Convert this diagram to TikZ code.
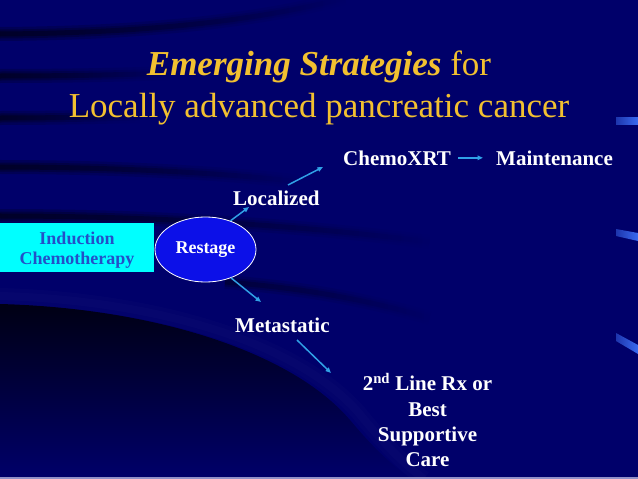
\documentclass[tikz,border=0pt]{standalone}
\usepackage{fontspec}
\setmainfont{Liberation Serif}
\usetikzlibrary{arrows.meta,shapes.geometric,fadings}
\definecolor{navybg}{HTML}{00006A}
\definecolor{bandc}{HTML}{000014}
\definecolor{gold}{HTML}{F2C030}
\definecolor{arrc}{HTML}{30A0E6}
\definecolor{restagec}{HTML}{0C10E8}
\definecolor{indc}{HTML}{00FFFF}
\definecolor{indtext}{HTML}{2350C8}
\definecolor{markc}{HTML}{3A6AF0}
\definecolor{edgec}{HTML}{9090C8}
\tikzfading[name=fadeR, left color=transparent!0, right color=transparent!100]
\begin{document}
\begin{tikzpicture}[x=1pt,y=-1pt,
  band/.style={draw=bandc, path fading=fadeR},
  arr/.style={draw=arrc, line width=1.5pt, -{Triangle[length=5.5pt,width=4.5pt]}},
  title/.style={text=gold, inner sep=0pt, font=\fontsize{35}{40}\selectfont},
  lbl/.style={text=white, inner sep=0pt, font=\fontsize{21}{25.3}\selectfont\bfseries},
  indbox/.style={rectangle, fill=indc, minimum width=154pt, minimum height=49pt, inner sep=0pt,
    align=center, text=indtext, font=\fontsize{18}{20}\selectfont\bfseries},
  restagebox/.style={ellipse, draw=white, line width=0.8pt, fill=restagec, minimum width=101pt,
    minimum height=65pt, inner sep=0pt, text=white, font=\fontsize{18}{20}\selectfont\bfseries}]
\useasboundingbox (0,0) rectangle (638,479);
% background
\fill[navybg] (0,0) rectangle (638,479);
\foreach \w/\o in {14/.25, 9/.35, 5/.5}{
  \draw[band, line width=\w pt, opacity=\o] (0,34) .. controls (150,33) and (260,20) .. (345,-2);
  \draw[band, line width=\w pt, opacity=\o] (0,76) .. controls (60,76) and (120,75) .. (170,73);
  \draw[band, line width=\w pt, opacity=\o] (0,118) .. controls (50,118) and (100,117) .. (140,116);
  \draw[band, line width=\w pt, opacity=\o] (0,167) .. controls (100,167) and (220,172) .. (300,182);
  \draw[band, line width=\w pt, opacity=\o] (0,216) .. controls (150,216) and (300,225) .. (430,242);
  \draw[band, line width=\w pt, opacity=\o*.6] (225,282) .. controls (300,288) and (360,298) .. (430,318);
}
\shade[top color=bandc, middle color=navybg!75!bandc, bottom color=navybg]
  (0,304) .. controls (150,308) and (290,350) .. (350,420) .. controls (375,450) and (395,468) .. (412,479)
  -- (0,479) -- cycle;
\foreach \w/\o in {16/.06, 8/.07}{
  \draw[navybg!80!white, line width=\w pt, opacity=\o]
    (0,296) .. controls (150,300) and (294,340) .. (358,412) .. controls (384,444) and (404,464) .. (424,479);
}
% right-edge marks
\shade[left color=markc!50!navybg, right color=markc] (616,117) rectangle (638,124);
\shade[left color=markc!50!navybg, right color=markc] (616,229) -- (638,233) -- (638,241) -- (616,236) -- cycle;
\shade[left color=markc!50!navybg, right color=markc] (616,333) -- (638,345) -- (638,354) -- (616,341) -- cycle;
\draw[edgec, line width=1.5pt] (0,478.2) -- (638,478.2);
% title
\node[title, anchor=base] (t1) at (319,75) {\bfseries\itshape Emerging Strategies \mdseries\upshape for};
\node[title, anchor=base] (t2) at (319,117) {Locally advanced pancreatic cancer};
% diagram
\node[indbox] (induct) at (77,247.5) {\rule{0pt}{18.5pt}Induction\\Chemotherapy};
\node[restagebox] (restage) at (205.5,249.5) {Restage};
\node[lbl, anchor=base west] (chemo) at (343,165) {ChemoXRT};
\node[lbl, anchor=base west] (maint) at (496,165) {Maintenance};
\node[lbl, anchor=base west] (local) at (233,205) {Localized};
\node[lbl, anchor=base west] (meta) at (235,332) {Metastatic};
\node[lbl, align=center] (second) at (427.5,420) {2\textsuperscript{nd} Line Rx or\\Best\\Supportive\\Care};
% connectors
\coordinate (a1e) at (249,207);
\coordinate (a2s) at (288,185);
\coordinate (a2e) at (323,167);
\coordinate (a3e) at (261,302);
\coordinate (a4s) at (297,340);
\coordinate (a4e) at (331,373);
\draw[arr] (restage.49) -- (a1e);
\draw[arr] (a2s) -- (a2e);
\draw[arr, shorten <=7pt, shorten >=13pt] (chemo.east) -- (maint.west);
\draw[arr] (restage.-48) -- (a3e);
\draw[arr] (a4s) -- (a4e);
\end{tikzpicture}
\end{document}
